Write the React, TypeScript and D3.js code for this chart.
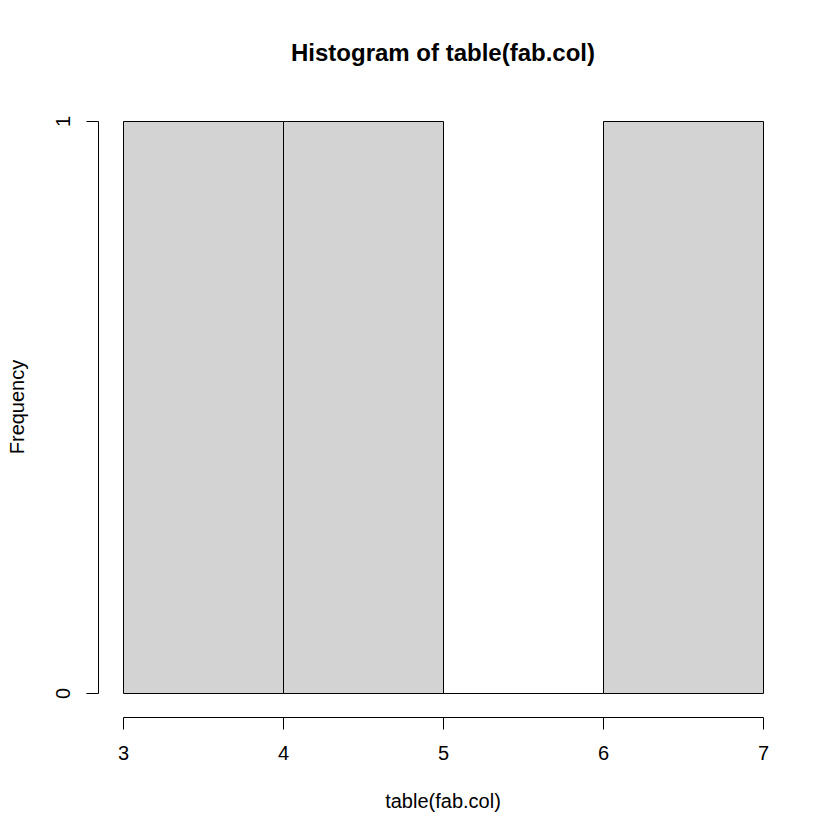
import React from "react";
import * as d3 from "d3";

const breaks = [3, 4, 5, 6, 7];
const counts = [1, 1, 0, 1];
const xTicks = [3, 4, 5, 6, 7];
const yTicks = [0, 1];
const title = "Histogram of table(fab.col)";
const xLabel = "table(fab.col)";
const yLabel = "Frequency";

export default function App() {
  const W = 840, H = 840;
  const x = d3.scaleLinear().domain([3, 7]).range([123, 763]);
  const y = d3.scaleLinear().domain([0, 1]).range([693.5, 121.5]);
  const font = "'Liberation Sans', Arial, sans-serif";
  const bins = counts.map((c, i) => ({ x0: breaks[i], x1: breaks[i + 1], c }));
  return (
    <svg width={W} height={H} style={{ position: "absolute", left: 0, top: 0 }} fontFamily={font}>
      <rect width={W} height={H} fill="white" />
      {bins.map((b, i) => {
        const x0 = x(b.x0) + 0.5, x1 = x(b.x1) + 0.5, yt = y(b.c), yb = y(0);
        return (
          <path key={i} d={`M${x0},${yb}L${x0},${yt}L${x1},${yt}L${x1},${yb}Z`}
            fill="#d3d3d3" stroke="black" strokeWidth={1} />
        );
      })}
      {/* x axis */}
      <line x1={x(3) + 0.5} x2={x(7) + 0.5} y1={717.5} y2={717.5} stroke="black" />
      {xTicks.map(t => (
        <g key={t}>
          <line x1={x(t) + 0.5} x2={x(t) + 0.5} y1={717.5} y2={729.5} stroke="black" />
          <text x={x(t) + 0.5} y={760} textAnchor="middle" fontSize={20}>{t}</text>
        </g>
      ))}
      {/* y axis */}
      <line x1={98.5} x2={98.5} y1={y(1)} y2={y(0)} stroke="black" />
      {yTicks.map(t => (
        <g key={t}>
          <line x1={86.5} x2={98.5} y1={y(t)} y2={y(t)} stroke="black" />
          <text transform={`translate(70,${y(t)}) rotate(-90)`} textAnchor="middle" fontSize={20}>{t}</text>
        </g>
      ))}
      <text x={443} y={61} textAnchor="middle" fontSize={24} fontWeight="bold">{title}</text>
      <text x={443} y={808} textAnchor="middle" fontSize={20}>{xLabel}</text>
      <text transform={`translate(23.5,407) rotate(-90)`} textAnchor="middle" fontSize={20}>{yLabel}</text>
    </svg>
  );
}
